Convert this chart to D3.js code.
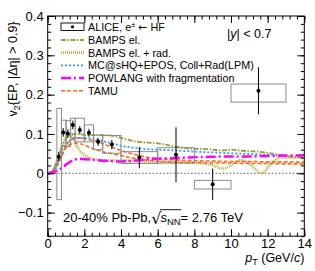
<!DOCTYPE html>
<html lang="en">
<head>
<meta charset="UTF-8">
<title>v2 heavy-flavour electrons</title>
<script src="https://d3js.org/d3.v7.min.js"></script>
<style>
  body { margin: 0; background: #fff; }
  svg { font-family: "Liberation Sans", Arial, sans-serif; }
  .tick text { font-size: 13px; fill: #000; }
  .leg { font-size: 10.8px; }
</style>
</head>
<body>
<div id="chart"></div>
<script>
// ALICE data points
const alicePt   = [0.6, 0.85, 1.1, 1.37, 1.75, 2.25, 2.75, 3.5, 5, 7, 9, 11.5];
const aliceV2   = [0.042, 0.104, 0.101, 0.123, 0.11, 0.103, 0.08, 0.073, 0.04, 0.047, -0.028, 0.21];
const aliceStat = [0.012, 0.011, 0.011, 0.011, 0.01, 0.01, 0.01, 0.012, 0.027, 0.07, 0.04, 0.06];
const binLo     = [0.5, 0.75, 1.0, 1.25, 1.5, 2.0, 2.5, 3, 4, 6, 8, 10];
const binHi     = [0.75, 1.0, 1.25, 1.5, 2.0, 2.5, 3.0, 4, 6, 8, 10, 13];
const sysLo     = [-0.067, 0.07, 0.068, 0.09, 0.08, 0.08, 0.06, 0.051, 0.025, 0.026, -0.04, 0.181];
const sysHi     = [0.165, 0.135, 0.134, 0.14, 0.14, 0.123, 0.097, 0.096, 0.055, 0.065, -0.018, 0.227];

// model curves [pT, v2]
const bampsEl = [[0,0],[0.25,0.005],[0.5,0.03],[0.75,0.065],[1.0,0.088],[1.25,0.098],[1.5,0.1],[2,0.098],[2.5,0.097],[3,0.097],[3.5,0.096],[4,0.09],[4.5,0.084],[5,0.08],[5.5,0.078],[6,0.076],[6.5,0.072],[7,0.068],[7.5,0.064],[8,0.062],[8.5,0.062],[9,0.06],[9.5,0.058],[10,0.06],[10.5,0.058],[11,0.056],[11.5,0.055],[12,0.052],[12.5,0.048],[13,0.044],[13.5,0.042],[14,0.04]];
const bampsRad = [[0,0],[0.25,0.005],[0.5,0.03],[0.75,0.065],[1.0,0.09],[1.2,0.097],[1.4,0.09],[1.6,0.068],[1.8,0.055],[2.0,0.046],[2.25,0.04],[2.5,0.036],[3,0.033],[3.5,0.032],[4,0.032],[5,0.031],[6,0.029],[7,0.029],[8,0.027],[8.5,0.025],[9,0.02],[9.6,0.012],[10,0.02],[10.5,0.033],[11,0.025],[11.65,0.0],[12.2,0.025],[12.7,0.04],[13.5,0.04],[14,0.039]];
const mcshq = [[0,0],[0.25,0.005],[0.5,0.025],[0.75,0.055],[1.0,0.075],[1.25,0.084],[1.5,0.088],[2,0.09],[2.5,0.088],[3,0.082],[3.5,0.076],[4,0.07],[4.5,0.066],[5,0.063],[5.5,0.061],[6,0.06],[7,0.058],[8,0.055],[9,0.053],[10,0.051],[11,0.049],[12,0.047],[12.5,0.046]];
const powlang = [[0,0],[0.25,0.002],[0.5,0.006],[0.75,0.013],[1.0,0.022],[1.25,0.03],[1.5,0.035],[1.75,0.037],[2,0.036],[2.5,0.034],[3,0.032],[3.5,0.031],[4,0.03],[4.5,0.031],[5,0.033],[5.5,0.036],[6,0.037],[7,0.039],[8,0.041],[9,0.042],[10,0.043],[11,0.043],[12,0.044],[13,0.045],[14,0.046]];
const tamuHi = [[0,0],[0.25,0.004],[0.5,0.02],[0.75,0.045],[1.0,0.07],[1.25,0.083],[1.5,0.089],[1.75,0.09],[2,0.088],[2.5,0.083],[3,0.076],[3.5,0.066],[4,0.058],[4.5,0.051],[5,0.045],[5.5,0.04],[6,0.037],[7,0.034],[8,0.032],[9,0.031],[10,0.03],[11,0.03],[12,0.029],[13,0.029],[14,0.028]];
const tamuLo = [[0,0],[0.25,0.003],[0.5,0.018],[0.75,0.042],[1.0,0.065],[1.25,0.074],[1.5,0.076],[1.75,0.075],[2,0.072],[2.5,0.062],[3,0.055],[3.5,0.05],[4,0.045],[4.5,0.04],[5,0.036],[5.5,0.033],[6,0.031],[7,0.028],[8,0.027],[9,0.026],[10,0.026],[11,0.025],[12,0.025],[13,0.024],[14,0.024]];

const xMajor = [0, 2, 4, 6, 8, 10, 12, 14];
const yMajor = [-0.1, 0, 0.1, 0.2, 0.3, 0.4];

const W = 315, H = 271;
const L = 47.7, R = 304.3, T = 16, B = 236.2;

const svg = d3.select("#chart").append("svg").attr("width", W).attr("height", H);
const x = d3.scaleLinear().domain([0, 14]).range([L, R]);
const y = d3.scaleLinear().domain([-0.16, 0.4]).range([B, T]);

svg.append("clipPath").attr("id", "clip").append("rect")
  .attr("x", L).attr("y", T).attr("width", R - L).attr("height", B - T);
const plot = svg.append("g").attr("clip-path", "url(#clip)");

// zero line
plot.append("line").attr("x1", x(0)).attr("x2", x(14)).attr("y1", y(0)).attr("y2", y(0))
  .attr("stroke", "#555").attr("stroke-width", 1).attr("stroke-dasharray", "1.5,2");

// models
const line = d3.line().x(d => x(d[0])).y(d => y(d[1])).curve(d3.curveMonotoneX);
const styles = {
  bampsEl:  { color: "#9c9c30", width: 1.8, dash: "5,1.5,1.5,1.5" },
  bampsRad: { color: "#b3b347", width: 2.8, dash: "1,1" },
  mcshq:    { color: "#3399ff", width: 1.8, dash: "2,2" },
  powlang:  { color: "#ff00ff", width: 2.5, dash: "10,3,2,3" },
  tamu:     { color: "#ff6a1a", width: 1.6, dash: "4,2" }
};
function drawCurve(data, s) {
  plot.append("path").attr("d", line(data)).attr("fill", "none")
    .attr("stroke", s.color).attr("stroke-width", s.width).attr("stroke-dasharray", s.dash);
}
drawCurve(bampsRad, styles.bampsRad);
drawCurve(bampsEl, styles.bampsEl);
drawCurve(tamuLo, styles.tamu);
drawCurve(tamuHi, styles.tamu);
drawCurve(mcshq, styles.mcshq);
drawCurve(powlang, styles.powlang);

// systematic boxes
const idx = d3.range(alicePt.length);
plot.selectAll("rect.sys").data(idx).enter().append("rect")
  .attr("x", i => x(binLo[i])).attr("width", i => x(binHi[i]) - x(binLo[i]))
  .attr("y", i => y(sysHi[i])).attr("height", i => y(sysLo[i]) - y(sysHi[i]))
  .attr("fill", "none").attr("stroke", "#8a8a8a").attr("stroke-width", 1);
// stat bars
plot.selectAll("line.stat").data(idx).enter().append("line")
  .attr("x1", i => x(alicePt[i])).attr("x2", i => x(alicePt[i]))
  .attr("y1", i => y(aliceV2[i] - aliceStat[i])).attr("y2", i => y(aliceV2[i] + aliceStat[i]))
  .attr("stroke", "#000").attr("stroke-width", 1);
plot.selectAll("circle").data(idx).enter().append("circle")
  .attr("cx", i => x(alicePt[i])).attr("cy", i => y(aliceV2[i])).attr("r", 2).attr("fill", "#000");

// axes, ROOT style inward ticks on all sides
const fmt = d => d === 0 ? "0" : d3.format(".1f")(d);
const xMinor = d3.range(0, 14.001, 0.4);
const yMinor = d3.range(-0.16, 0.4001, 0.02);
function ax(gen, tx, ty) {
  const g = svg.append("g").attr("transform", `translate(${tx},${ty})`).call(gen);
  g.select(".domain").remove();
  g.selectAll(".tick line").attr("stroke", "#000");
  return g;
}
ax(d3.axisBottom(x).tickValues(xMajor).tickSize(-7).tickPadding(2.5), 0, B);
ax(d3.axisBottom(x).tickValues(xMinor).tickSize(-3.5).tickFormat(""), 0, B);
ax(d3.axisTop(x).tickValues(xMajor).tickSize(-7).tickFormat(""), 0, T);
ax(d3.axisTop(x).tickValues(xMinor).tickSize(-3.5).tickFormat(""), 0, T);
ax(d3.axisLeft(y).tickValues(yMajor).tickSize(-7).tickPadding(4).tickFormat(fmt), L, 0);
ax(d3.axisLeft(y).tickValues(yMinor).tickSize(-3.5).tickFormat(""), L, 0);
ax(d3.axisRight(y).tickValues(yMajor).tickSize(-7).tickFormat(""), R, 0);
ax(d3.axisRight(y).tickValues(yMinor).tickSize(-3.5).tickFormat(""), R, 0);

svg.append("rect").attr("x", L).attr("y", T).attr("width", R - L).attr("height", B - T)
  .attr("fill", "none").attr("stroke", "#000").attr("stroke-width", 1);

// axis titles
const yt = svg.append("text").attr("transform", "translate(17,69) rotate(-90)")
  .attr("text-anchor", "middle").attr("font-size", 12.5);
yt.append("tspan").text("v");
yt.append("tspan").attr("font-size", 9).attr("dy", 3).text("2");
yt.append("tspan").attr("dy", -3).text("{EP, |Δη| > 0.9}");

const xt = svg.append("text").attr("x", R).attr("y", 262).attr("text-anchor", "end").attr("font-size", 12.5);
xt.append("tspan").attr("font-style", "italic").text("p");
xt.append("tspan").attr("font-size", 9).attr("dy", 3).text("T");
xt.append("tspan").attr("dy", -3).text(" (GeV/");
xt.append("tspan").attr("font-style", "italic").text("c");
xt.append("tspan").text(")");

// rapidity label
const yl = svg.append("text").attr("x", 227).attr("y", 38).attr("font-size", 12.5);
yl.append("tspan").text("|");
yl.append("tspan").attr("font-style", "italic").text("y");
yl.append("tspan").text("| < 0.7");

// collision system label
const sx = 63, sy = 222, fs = 13;
const t1 = svg.append("text").attr("x", sx).attr("y", sy).attr("font-size", fs).text("20-40% Pb-Pb, ");
let cx = sx + t1.node().getComputedTextLength();
const rad = svg.append("text").attr("x", cx).attr("y", sy + 1.5).attr("font-size", fs + 3)
  .attr("font-family", "DejaVu Sans").text("√");
cx += rad.node().getComputedTextLength() - 1;
const sText = svg.append("text").attr("x", cx).attr("y", sy).attr("font-size", fs);
sText.append("tspan").attr("font-style", "italic").text("s");
sText.append("tspan").attr("font-size", 9.5).attr("dy", 3).text("NN");
const sw = sText.node().getComputedTextLength();
svg.append("line").attr("x1", cx - 0.5).attr("x2", cx + sw + 0.5).attr("y1", sy - 12.3).attr("y2", sy - 12.3)
  .attr("stroke", "#000").attr("stroke-width", 0.9);
svg.append("text").attr("x", cx + sw).attr("y", sy).attr("font-size", fs).text(" = 2.76 TeV");

// legend
const lx1 = 61, lx2 = 84, tx = 88;
svg.append("rect").attr("x", lx1).attr("y", 23).attr("width", lx2 - lx1).attr("height", 7.5)
  .attr("fill", "none").attr("stroke", "#000").attr("stroke-width", 0.9);
svg.append("circle").attr("cx", (lx1 + lx2) / 2).attr("cy", 26.75).attr("r", 1.6).attr("fill", "#000");
const a = svg.append("text").attr("class", "leg").attr("x", tx).attr("y", 30.5);
a.append("tspan").text("ALICE, e");
a.append("tspan").attr("font-size", 7.5).attr("dy", -4).text("±");
a.append("tspan").attr("dy", 4).text(" ");
a.append("tspan").attr("font-family", "DejaVu Sans").text("←");
a.append("tspan").text(" HF");

const legNames = ["BAMPS el.", "BAMPS el. + rad.", "MC@sHQ+EPOS, Coll+Rad(LPM)", "POWLANG with fragmentation", "TAMU"];
const legStyles = [styles.bampsEl, styles.bampsRad, styles.mcshq, styles.powlang, styles.tamu];
const legY = [40, 52.7, 65.3, 78, 90.7];
legNames.forEach((n, i) => {
  const s = legStyles[i];
  svg.append("line").attr("x1", lx1).attr("x2", lx2).attr("y1", legY[i]).attr("y2", legY[i])
    .attr("stroke", s.color).attr("stroke-width", s.width).attr("stroke-dasharray", s.dash);
  svg.append("text").attr("class", "leg").attr("x", tx).attr("y", legY[i] + 3.8).text(n);
});
</script>
</body>
</html>
